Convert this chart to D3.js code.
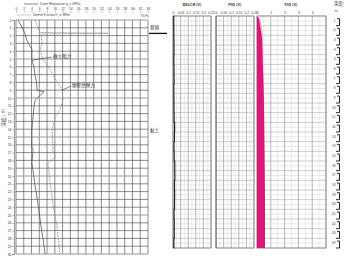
<!DOCTYPE html>
<html><head><meta charset="utf-8">
<script src="https://cdn.jsdelivr.net/npm/d3@7"></script>
<style>body{margin:0;background:#fff}svg{display:block;font-family:"Noto Sans CJK TC","DejaVu Sans",sans-serif}</style>
</head><body><svg id="c" width="350" height="256"></svg>
<script>
// ---- data ----
const qcDepth = [0,0.9,1.7,2.6,3.8,5.1,6.0,7.1,8.0,9.0,9.2,10.3,11.2,12.4,14.1,16.3,16.7,18.3,21.2,23.7,26.3,28.2,30];
const coneResistance = [0.5,1.5,2.3,2.8,4.1,4.1,4.6,4.9,5.3,5.4,7.2,4.9,4.6,4.4,4.1,4.1,4.4,4.1,4.9,5.7,6.4,7.0,7.5];
const fsDepth = [0,1.0,1.6,1.7,1.8,2.9,3.9,5.1,6.4,8.1,9.0,10.3,11.5,12.4,14.1,16.7,17.6,18.3,20.9,23.5,26.6,30];
const sleeveFriction = [49,56,62,237,64,67,62,70,88,108,119,121,113,101,93,95,101,82,88,95,106,113];
const qcTicks = [0,2,4,6,8,10,12,14,16,18,20,22,24,26,28,30,32,34];
const leftDepthTicks = [0,1,2,3,4,5,6,7,8,9,10,11,12,13,14,15,16,17,18,19,20,21,22,23,24,25,26,27,28,29,30];

const logDepth = [0,1,2,3,4,5,6,7,8,9,10,11,12,13,14,15,16,17,18,19,20,21,22,23,24];
const delcb = [0.004,0.006,0.005,0.007,0.006,0.005,0.008,0.006,0.005,0.007,0.006,0.009,0.012,0.007,0.006,0.010,0.013,0.011,0.009,0.012,0.008,0.006,0.010,0.007,0.005];
const pid = [0.001,0.001,0.001,0.001,0.001,0.001,0.001,0.001,0.001,0.001,0.001,0.001,0.001,0.001,0.001,0.001,0.001,0.001,0.001,0.001,0.001,0.001,0.001,0.001,0.001];
const fidDepth = [0,0.3,1.0,2.1,3.0,4.5,6.5,8.6,11,13.8,16.5,19,21.5,24];
const fid = [0,0.14,0.22,0.34,0.38,0.41,0.46,0.50,0.52,0.54,0.56,0.58,0.58,0.58];
const fidUpper = [0,0.2,0.32,0.42,0.44,0.45,0.47,0.50,0.52,0.54,0.56,0.58,0.58,0.58];
const voltTicks = [0,0.05,0.1,0.15,0.2,0.25];
const voltTickLabels = ["0","0.05","0.1","0.15","0.2","0.25"];
const fidTicks = [0,1,2,3,4];
const rightDepthTicks = [1,2,3,4,5,6,7,8,9,10,11,12,13,14,15,16,17,18,19,20,21,22,23,24];
const soilNames = ["新規","黏土"];
const soilTops = [0,1.8];
const soilBottoms = [1.8,24];

// ---- chart ----
const svg = d3.select("#c");
const ink = "#333";

// left CPT panel
const xL = d3.scaleLinear([0,34],[16,148]);
const xFs = d3.scaleLinear([0,340],[16,148]);
const yL = d3.scaleLinear([0,30],[20,254]);
const gL = svg.append("g");
gL.selectAll("line.v").data(qcTicks).join("line")
  .attr("x1",d=>xL(d)).attr("x2",d=>xL(d)).attr("y1",yL(0)).attr("y2",yL(30))
  .attr("stroke",d=>d%10===0?"#999":"#5a5a5a").attr("stroke-width",d=>d%10===0?1.2:0.7);
gL.selectAll("line.h").data(leftDepthTicks).join("line")
  .attr("x1",xL(0)).attr("x2",xL(34)).attr("y1",d=>yL(d)).attr("y2",d=>yL(d))
  .attr("stroke",d=>d%5===0?"#999":"#5a5a5a").attr("stroke-width",d=>d%5===0?1.2:0.7);

const axL = gL.append("g").attr("transform","translate(14,0)")
  .call(d3.axisLeft(yL).tickValues(leftDepthTicks).tickSize(1.5).tickPadding(1));
axL.select(".domain").attr("stroke","#555").attr("stroke-width",0.6);
axL.selectAll("text").attr("font-size",3.4).attr("fill",ink);
axL.selectAll(".tick line").attr("stroke","#555").attr("stroke-width",0.5);

const axT = gL.append("g").attr("transform","translate(0,11)")
  .call(d3.axisTop(xL).tickValues(qcTicks).tickSize(-1.5).tickPadding(1));
axT.select(".domain").remove();
axT.selectAll("text").attr("font-size",3.4).attr("fill",ink);
axT.selectAll(".tick line").attr("stroke","#555").attr("stroke-width",0.5);

// legends
gL.append("line").attr("x1",24).attr("x2",38).attr("y1",4).attr("y2",4).attr("stroke",ink).attr("stroke-width",0.6);
gL.append("text").attr("x",40).attr("y",5.3).attr("font-size",3.3).attr("fill",ink).text("Cone Resistance  q_c (MPa)");
gL.append("line").attr("x1",17).attr("x2",31).attr("y1",15).attr("y2",15).attr("stroke","#777").attr("stroke-width",0.6).attr("stroke-dasharray","1.5,1");
gL.append("text").attr("x",33).attr("y",16.3).attr("font-size",3.3).attr("fill",ink).text("Sleeve Friction  f_s (MPa)");
gL.append("text").attr("x",149).attr("y",16.5).attr("font-size",3).attr("fill",ink).attr("text-anchor","end").text("FS(%)");

// curves
const lineQc = d3.line().x((d,i)=>xL(coneResistance[i])).y(d=>yL(d));
const lineFs = d3.line().x((d,i)=>xFs(sleeveFriction[i])).y(d=>yL(d));
gL.append("path").attr("d",lineQc(qcDepth)).attr("fill","none").attr("stroke","#555").attr("stroke-width",0.8);
gL.append("path").attr("d",lineFs(fsDepth)).attr("fill","none").attr("stroke","#888").attr("stroke-width",0.8).attr("stroke-dasharray","2,1");

// annotations
const ann1 = [xL(coneResistance[5]), yL(qcDepth[5])+0.5];
gL.append("line").attr("x1",ann1[0]).attr("y1",ann1[1]).attr("x2",52).attr("y2",57).attr("stroke",ink).attr("stroke-width",0.6);
gL.append("text").attr("x",53).attr("y",58).attr("font-size",4.6).attr("fill",ink).text("極大阻力");
const ann2 = [xFs(sleeveFriction[10]), yL(fsDepth[10])];
gL.append("line").attr("x1",ann2[0]).attr("y1",ann2[1]).attr("x2",71).attr("y2",86).attr("stroke",ink).attr("stroke-width",0.6);
gL.append("text").attr("x",72).attr("y",87).attr("font-size",4.6).attr("fill",ink).text("側壁摩擦力");

gL.append("text").attr("transform","translate(5,118) rotate(-90)").attr("text-anchor","middle")
  .attr("font-size",4.6).attr("fill",ink).text("深度 / m");

// right logs
const yR = d3.scaleLinear([0,24],[16,248]);
const halfDepths = d3.range(0,48).map(i=>i/2);

function panel(x, ticks, labels, minor, title, cx){
  const g = svg.append("g");
  const [a,b] = x.domain();
  g.selectAll("line.hm").data(halfDepths.filter(d=>d%1!==0)).join("line")
    .attr("x1",x(a)).attr("x2",x(b)).attr("y1",d=>yR(d)).attr("y2",d=>yR(d))
    .attr("stroke","#c4c4c4").attr("stroke-width",0.6).attr("stroke-dasharray","1.5,1");
  g.selectAll("line.hM").data(logDepth).join("line")
    .attr("x1",x(a)).attr("x2",x(b)).attr("y1",d=>yR(d)).attr("y2",d=>yR(d))
    .attr("stroke","#aaa").attr("stroke-width",0.6);
  g.selectAll("line.vm").data(minor).join("line")
    .attr("x1",d=>x(d)).attr("x2",d=>x(d)).attr("y1",yR(0)).attr("y2",yR(24))
    .attr("stroke","#c8c8c8").attr("stroke-width",0.6).attr("stroke-dasharray","1.5,1");
  g.selectAll("line.vM").data(ticks).join("line")
    .attr("x1",d=>x(d)).attr("x2",d=>x(d)).attr("y1",yR(0)).attr("y2",yR(24))
    .attr("stroke","#999").attr("stroke-width",0.7);
  g.append("rect").attr("x",x(a)).attr("y",yR(0)).attr("width",x(b)-x(a)).attr("height",yR(24)-yR(0))
    .attr("fill","none").attr("stroke","#888").attr("stroke-width",0.8);
  const ax = g.append("g").attr("transform",`translate(0,${yR(0)})`)
    .call(d3.axisTop(x).tickValues(ticks).tickFormat((d,i)=>labels[i]).tickSize(0).tickPadding(2));
  ax.select(".domain").remove();
  ax.selectAll("text").attr("font-size",3.3).attr("fill",ink);
  g.append("text").attr("x",cx).attr("y",6).attr("text-anchor","middle").attr("font-size",4)
    .attr("font-weight","bold").attr("fill",ink).text(title);
  return g;
}
const xD = d3.scaleLinear([0,0.25],[173,211]);
const xP = d3.scaleLinear([0,0.25],[216,254]);
const xF = d3.scaleLinear([0,5],[257,326]);
const gD = panel(xD, voltTicks, voltTickLabels, [0.025,0.075,0.125,0.175,0.225], "DELCB (V)", 192);
const gP = panel(xP, voltTicks, voltTickLabels, [0.025,0.075,0.125,0.175,0.225], "PID (V)", 235);
const gF = panel(xF, [0,1,2,3,4,5], ["0","1","2","3","4",""], [0.5,1.5,2.5,3.5,4.5], "FID (V)", 291);

gD.append("path").attr("d",d3.line().x((d,i)=>xD(delcb[i])).y(d=>yR(d)).curve(d3.curveStep)(logDepth))
  .attr("fill","none").attr("stroke","#222").attr("stroke-width",1.2);
gP.append("path").attr("d",d3.line().x((d,i)=>xP(pid[i])).y(d=>yR(d))(logDepth))
  .attr("fill","none").attr("stroke","#555").attr("stroke-width",0.6);

const areaUp = d3.area().x0(xF(0)).x1((d,i)=>xF(fidUpper[i])).y(d=>yR(d)).curve(d3.curveMonotoneY);
const areaF = d3.area().x0(xF(0)).x1((d,i)=>xF(fid[i])).y(d=>yR(d)).curve(d3.curveMonotoneY);
gF.append("path").attr("d",areaUp(fidDepth)).attr("fill","#f2a3c8");
gF.append("path").attr("d",areaF(fidDepth)).attr("fill","#dc1677");

// soil column
soilNames.forEach((n,i)=>{
  const yMid = i===0 ? yR(soilBottoms[i])-4.5 : yR((soilTops[i]+soilBottoms[i])/2)-9;
  svg.append("text").attr("x",150).attr("y",yMid).attr("font-size",4.6).attr("fill",ink).text(n);
});
svg.append("line").attr("x1",149).attr("x2",167).attr("y1",yR(soilTops[1])).attr("y2",yR(soilTops[1]))
  .attr("stroke","#111").attr("stroke-width",1.3);

// right depth scale
svg.append("text").attr("x",339).attr("y",5).attr("text-anchor","middle").attr("font-size",4.2).attr("fill",ink).text("深度/");
svg.append("text").attr("x",336).attr("y",12).attr("text-anchor","middle").attr("font-size",3.4).attr("fill",ink).text("m");
const gS = svg.append("g");
gS.selectAll("path").data(rightDepthTicks).join("path")
  .attr("d",d=>`M337,${yR(d-0.72)}H339.5V${yR(d)}H336`)
  .attr("fill","none").attr("stroke","#111").attr("stroke-width",0.9);
gS.selectAll("text").data(rightDepthTicks).join("text")
  .attr("x",335.5).attr("y",d=>yR(d-0.4)).attr("text-anchor","end").attr("font-size",3.2).attr("fill",ink).text(d=>d);
</script></body></html>
